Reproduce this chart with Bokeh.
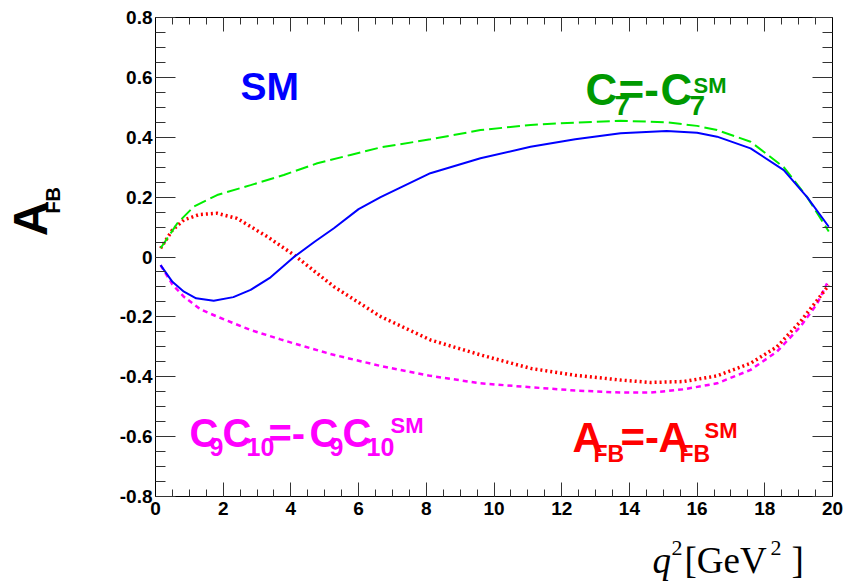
import math
from bokeh.plotting import figure
from bokeh.layouts import column, row
from bokeh.models import (Range1d, LinearAxis, SingleIntervalTicker,
                          CustomJSTickFormatter, Label)
from bokeh.embed import file_html
from bokeh.resources import INLINE

# ---- data ----
q_sm = [0.15, 0.5, 0.84, 1.2, 1.72, 2.3, 2.81, 3.4, 4.09, 4.7, 5.27, 6.0, 6.65,
        8.12, 9.6, 11.08, 12.4, 13.74, 15.1, 16.0, 16.59, 17.58, 18.56, 19.25, 19.89]
afb_sm = [-0.027, -0.083, -0.116, -0.138, -0.146, -0.134, -0.110, -0.068, 0.0, 0.051,
          0.096, 0.160, 0.200, 0.280, 0.330, 0.368, 0.393, 0.413, 0.421, 0.415,
          0.402, 0.363, 0.290, 0.200, 0.101]

q_c7 = [0.15, 0.64, 1.13, 1.82, 2.81, 3.79, 4.78, 5.76, 6.65, 8.12, 9.6, 11.08,
        12.4, 13.74, 15.1, 16.0, 16.59, 17.58, 18.56, 19.25, 19.89]
afb_c7 = [0.029, 0.112, 0.168, 0.207, 0.240, 0.274, 0.313, 0.341, 0.366, 0.393,
          0.424, 0.441, 0.449, 0.455, 0.450, 0.438, 0.424, 0.385, 0.300, 0.200, 0.085]

q_c910 = [0.15, 0.5, 0.84, 1.33, 1.82, 2.81, 3.69, 4.28, 5.2, 6.65, 8.12, 9.6,
          11.08, 12.4, 13.74, 14.62, 15.6, 16.59, 17.58, 18.36, 19.05, 19.55, 19.84]
afb_c910 = [-0.027, -0.092, -0.133, -0.175, -0.199, -0.244, -0.275, -0.295, -0.325,
            -0.364, -0.397, -0.422, -0.435, -0.446, -0.453, -0.453, -0.442, -0.422,
            -0.377, -0.316, -0.233, -0.155, -0.088]

q_flip = [0.15, 0.5, 0.84, 1.3, 1.82, 2.41, 3.3, 4.09, 5.27, 6.65, 8.12, 9.6, 11.08,
          12.4, 13.74, 14.62, 15.6, 16.59, 17.58, 18.36, 19.05, 19.55, 19.89]
afb_flip = [0.029, 0.090, 0.124, 0.142, 0.146, 0.129, 0.068, 0.007, -0.099, -0.199,
            -0.277, -0.327, -0.372, -0.395, -0.411, -0.419, -0.416, -0.397, -0.355,
            -0.300, -0.216, -0.144, -0.094]

x_major = 2
y_major = 0.2

FONT = "Liberation Sans"
SERIF = "Liberation Serif"
MID = 0.35  # distance from baseline to the middle of capitals, in em

# ---- layout sizes (page pixels) ----
W_LEFT, W_MAIN, H_MAIN, H_BOTTOM = 80, 765, 530, 51

# ---- main figure ----
p = figure(width=W_MAIN, height=H_MAIN, output_backend="svg", toolbar_location=None,
           x_range=Range1d(0, 20), y_range=Range1d(-0.8, 0.8),
           min_border_left=75, min_border_right=13, min_border_top=17,
           min_border_bottom=34)
p.background_fill_color = "white"
p.border_fill_color = "white"
p.outline_line_color = "black"
p.outline_line_width = 1
p.xgrid.visible = False
p.ygrid.visible = False


def style_axis(ax, major_in, minor_in, show_labels, standoff):
    ax.axis_line_color = "black"
    ax.major_tick_line_color = "#333333"
    ax.minor_tick_line_color = "#333333"
    ax.major_tick_in = major_in
    ax.major_tick_out = 0
    ax.minor_tick_in = minor_in
    ax.minor_tick_out = 0
    ax.major_label_text_font = FONT
    ax.major_label_text_font_style = "bold"
    ax.major_label_text_font_size = "19px" if show_labels else "0px"
    ax.major_label_text_color = "black"
    ax.major_label_standoff = standoff


xa = p.xaxis[0]
xa.ticker = SingleIntervalTicker(interval=x_major, num_minor_ticks=4)
style_axis(xa, 14, 7, True, 5)
ya = p.yaxis[0]
ya.ticker = SingleIntervalTicker(interval=y_major, num_minor_ticks=4)
ya.formatter = CustomJSTickFormatter(
    code="return Math.abs(tick) < 1e-9 ? '0' : tick.toFixed(1);")
style_axis(ya, 20, 10, True, 3)

empty = CustomJSTickFormatter(code="return '';")
top = LinearAxis(ticker=SingleIntervalTicker(interval=x_major, num_minor_ticks=4),
                 formatter=empty)
style_axis(top, 14, 7, False, 0)
p.add_layout(top, "above")
right = LinearAxis(ticker=SingleIntervalTicker(interval=y_major, num_minor_ticks=4),
                   formatter=empty)
style_axis(right, 20, 10, False, 0)
p.add_layout(right, "right")

# ---- curves ----
p.line(q_c910, afb_c910, line_color="#ff00ff", line_width=2.5, line_dash="5 4")
p.line(q_flip, afb_flip, line_color="#ff0000", line_width=3.5, line_dash="2 3")
p.line(q_c7, afb_c7, line_color="#00ee00", line_width=2, line_dash="13 5")
p.line(q_sm, afb_sm, line_color="#0000ff", line_width=2)


# ---- text helpers ----
def txt(fig, x, y, text, size, color, style="bold", font=FONT, angle=0.0):
    fig.add_layout(Label(x=x, y=y, text=text,
                         text_font_size=f"{size}px", text_color=color,
                         text_font_style=style, text_font=font,
                         text_align="left", text_baseline="middle",
                         angle=angle))


X0, XS = 155.0, 677.0 / 20.0
Y0, YS = 257.0, 479.0 / 1.6


def ptxt(px, py, text, size, color, style="bold"):
    # px: left edge, py: baseline (page pixels)
    cy = py - MID * size
    txt(p, (px - X0) / XS, (Y0 - cy) / YS, text, size, color, style)


ptxt(240, 100, "SM", 39, "#0000ff")

G = "#009900"
ptxt(585, 105, "C", 44, G)
ptxt(614, 115, "7", 28, G)
ptxt(618, 105, "=-", 44, G)
ptxt(660, 105, "C", 44, G)
ptxt(689, 115, "7", 28, G)
ptxt(693, 93, "SM", 22, G)

M = "#ff00ff"
ptxt(189, 447, "C", 40, M)
ptxt(209, 456, "9", 25, M)
ptxt(222, 447, "C", 40, M)
ptxt(246, 456, "10", 25, M)
ptxt(268, 447, "=-", 40, M)
ptxt(309, 447, "C", 40, M)
ptxt(329, 456, "9", 25, M)
ptxt(342, 447, "C", 40, M)
ptxt(366, 456, "10", 25, M)
ptxt(390, 433, "SM", 22, M)

R = "#ff0000"
ptxt(572, 452, "A", 42, R)
ptxt(593, 462, "FB", 23, R)
ptxt(620, 452, "=-", 42, R)
ptxt(658, 452, "A", 42, R)
ptxt(679, 462, "FB", 23, R)
ptxt(704, 438, "SM", 22, R)


# ---- helper figures for the axis titles ----
def blank(w, h):
    f = figure(width=w, height=h, output_backend="svg", toolbar_location=None,
               x_range=Range1d(0, w), y_range=Range1d(0, h), min_border=0,
               x_axis_location=None, y_axis_location=None)
    f.outline_line_color = None
    f.background_fill_color = "white"
    f.border_fill_color = "white"
    f.grid.visible = False
    return f


left = blank(W_LEFT, H_MAIN)


def ltxt(px, py, text, size):
    # rotated text reading upward: px = baseline x, py = start (bottom) y
    txt(left, px - MID * size, H_MAIN - py, text, size, "black", angle=math.pi / 2)


ltxt(47, 242, "A", 48)
ltxt(59, 217, "FB", 20)

bottom = blank(W_LEFT + W_MAIN, H_BOTTOM)
BY = H_MAIN + H_BOTTOM


def btxt(px, py, text, size, style="normal"):
    txt(bottom, px, BY - (py - MID * size), text, size, "black", style=style, font=SERIF)


btxt(652, 573, "q", 37, "italic")
btxt(671, 555, "2", 22)
btxt(684, 573, "[GeV", 37)
btxt(770, 555, "2", 22)
btxt(791, 573, "]", 37)

layout = column(row(left, p), bottom)
open("out.html", "w").write(file_html(layout, INLINE))
